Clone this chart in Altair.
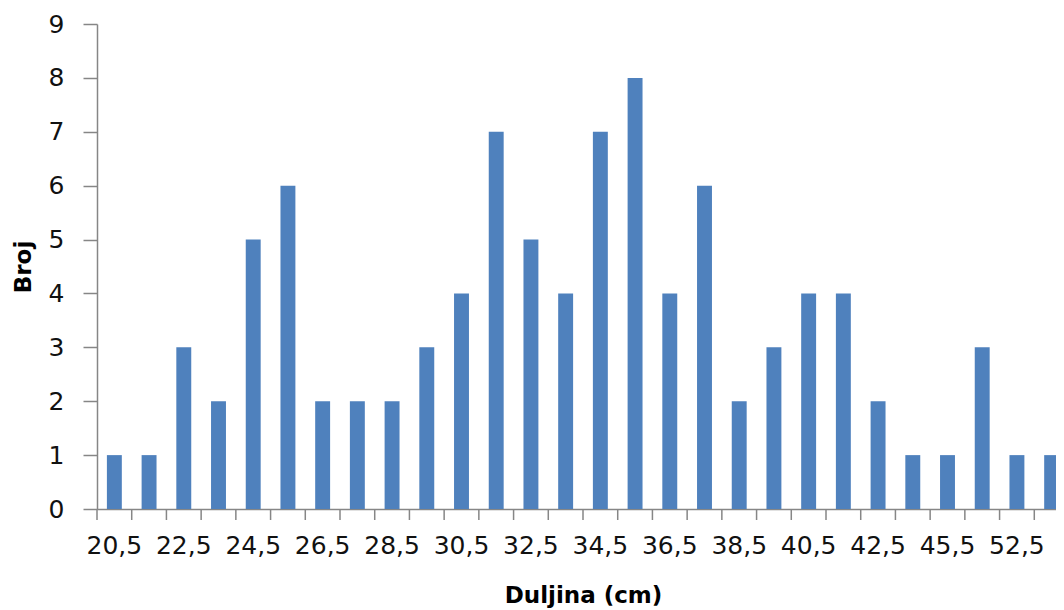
import altair as alt
import pandas as pd

categories = ["20,5", "21,5", "22,5", "23,5", "24,5", "25,5", "26,5", "27,5", "28,5", "29,5",
              "30,5", "31,5", "32,5", "33,5", "34,5", "35,5", "36,5", "37,5", "38,5", "39,5",
              "40,5", "41,5", "42,5", "43,5", "45,5", "47,5", "52,5", "54,5"]
counts = [1, 1, 3, 2, 5, 6, 2, 2, 2, 3,
          4, 7, 5, 4, 7, 8, 4, 6, 2, 3,
          4, 4, 2, 1, 1, 3, 1, 1]
shown_labels = categories[::2]

df = pd.DataFrame({"Duljina": categories, "Broj": counts})

font = "DejaVu Sans"
axis_gray = "#868686"
label_list = "[" + ",".join("'" + s + "'" for s in shown_labels) + "]"
label_expr = "indexof(" + label_list + ", datum.label) >= 0 ? datum.label : ''"

x_scale = alt.Scale(paddingInner=0, paddingOuter=0, range=[0, 972])
x_axis = alt.Axis(title="Duljina (cm)", labelAngle=0, ticks=False,
                  labelExpr=label_expr,
                  labelFont=font, labelFontSize=25, labelColor="#111111",
                  labelPadding=24, domainColor=axis_gray, domainWidth=1.5,
                  titleFont=font, titleFontSize=23, titleFontWeight="bold",
                  titleColor="#000000", titlePadding=26, labelOverlap=False)
y_axis = alt.Axis(title="Broj", values=list(range(10)), grid=False,
                  labelFont=font, labelFontSize=25, labelColor="#111111",
                  labelPadding=19, tickSize=14, tickColor=axis_gray,
                  domainColor=axis_gray, domainWidth=1.5, tickWidth=1.5,
                  titleFont=font, titleFontSize=23, titleFontWeight="bold",
                  titleColor="#000000", titlePadding=13)

base = alt.Chart(df)

bars = base.mark_bar(color="#4F81BD", width=alt.RelativeBandSize(0.43)).encode(
    x=alt.X("Duljina:N", sort=categories, scale=x_scale, axis=x_axis),
    y=alt.Y("Broj:Q", scale=alt.Scale(domain=[0, 9], nice=False), axis=y_axis),
)

# category-boundary tick marks below the x axis (Excel style)
ticks = base.mark_rule(color=axis_gray, strokeWidth=1.5).encode(
    x=alt.X("Duljina:N", sort=categories, scale=x_scale, axis=x_axis, bandPosition=0),
    y=alt.value(485),
    y2=alt.value(496),
)

chart = alt.layer(bars, ticks).properties(
    width=959, height=485,
    autosize=alt.AutoSizeParams(type="none"),
    padding={"left": 89, "top": 16, "right": 0, "bottom": 100},
).configure(background="white").configure_view(stroke=None)

chart.save("out.html", embed_options={"renderer": "svg", "actions": False})
